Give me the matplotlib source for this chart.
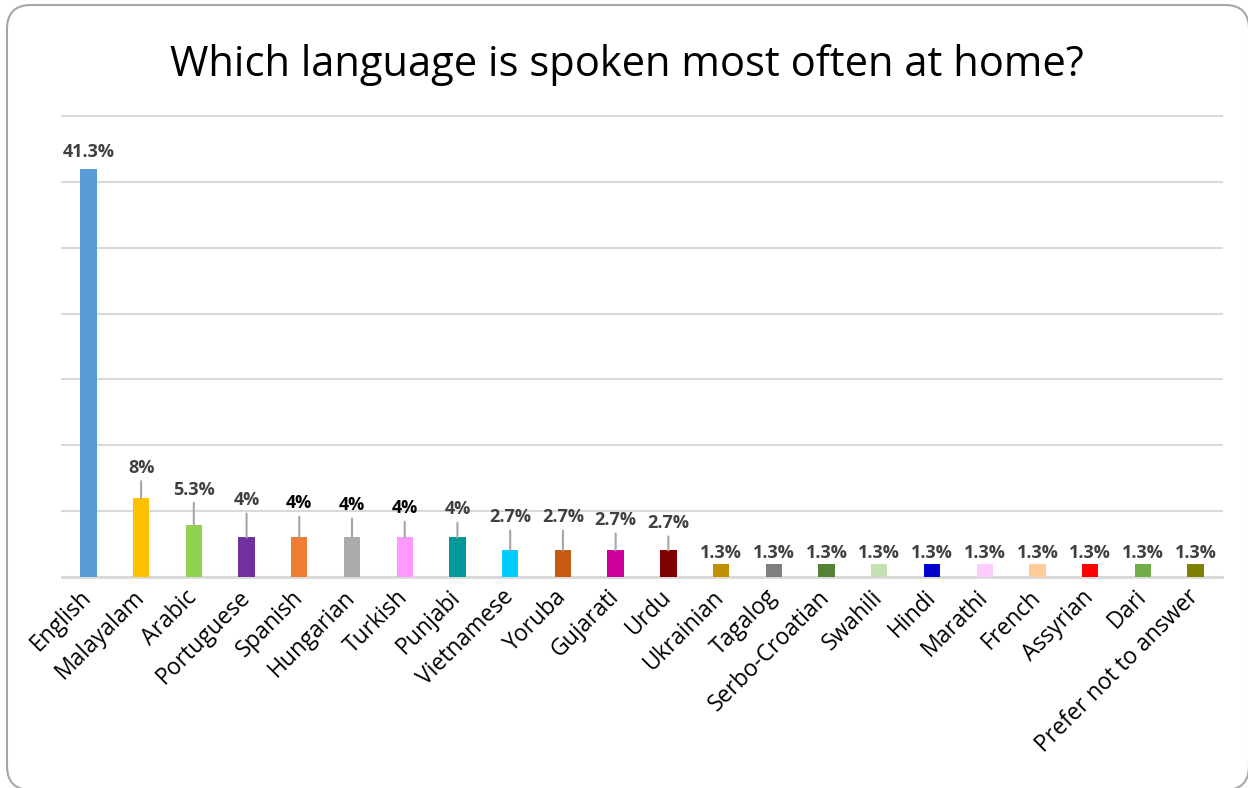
import matplotlib
matplotlib.use('Agg')
import matplotlib.pyplot as plt
import numpy as np
from matplotlib.patches import FancyBboxPatch
from matplotlib.transforms import IdentityTransform

plt.rcParams['font.family'] = ['Open Sans', 'DejaVu Sans']

# Dados do gráfico
languages = ['English', 'Malayalam', 'Arabic', 'Portuguese', 'Spanish', 'Hungarian',
             'Turkish', 'Punjabi', 'Vietnamese', 'Yoruba', 'Gujarati', 'Urdu',
             'Ukrainian', 'Tagalog', 'Serbo-Croatian', 'Swahili', 'Hindi', 'Marathi',
             'French', 'Assyrian', 'Dari', 'Prefer not to answer']
percent = [41.3, 8, 5.3, 4, 4, 4, 4, 4, 2.7, 2.7, 2.7, 2.7,
           1.3, 1.3, 1.3, 1.3, 1.3, 1.3, 1.3, 1.3, 1.3, 1.3]
value_labels = ['41.3%', '8%', '5.3%', '4%', '4%', '4%', '4%', '4%', '2.7%', '2.7%', '2.7%', '2.7%',
                '1.3%', '1.3%', '1.3%', '1.3%', '1.3%', '1.3%', '1.3%', '1.3%', '1.3%', '1.3%']
bar_colors = ['#5B9BD5', '#FFC000', '#92D050', '#7030A0', '#ED7D31', '#AEAAAA',
              '#FF99FF', '#009999', '#00CCFF', '#C55A11', '#CC0099', '#800000',
              '#BF9000', '#7F7F7F', '#548235', '#C5E0B4', '#0000CC', '#FFCCFF',
              '#FFCC99', '#FF0000', '#70AD47', '#808000']

# posição dos rótulos (px acima da barra) e se tem linha de chamada
label_gap_px = [17, 30, 35, 37, 34, 32, 29, 28, 33, 33, 30, 27,
                11, 11, 11, 11, 11, 11, 11, 11, 11, 11]
leader = [False, True, True, True, True, True, True, True, True, True, True, True,
          False, False, False, False, False, False, False, False, False, False]
label_colors = ['#404040'] * 4 + ['#000000'] * 3 + ['#404040'] * 15

W, H = 1248, 788
fig = plt.figure(figsize=(W / 100, H / 100), dpi=100)
ax = fig.add_axes([62 / W, 211 / H, 1160 / W, 461 / H])

x = np.arange(len(languages))
ax.bar(x, percent, width=0.31, color=bar_colors, zorder=3)

ax.set_xlim(-0.5, len(languages) - 0.5)
ax.set_ylim(0, 100 * 35 / 75)
ax.set_yticks(np.arange(8) * 100 / 15)
ax.yaxis.grid(True, color='#d9d9d9', lw=1.5)
for gl in ax.get_ygridlines():
    gl.set_clip_on(False)
ax.set_axisbelow(True)
ax.tick_params(axis='y', length=0, labelleft=False)
ax.tick_params(axis='x', length=0, pad=12)
for s in ['top', 'right', 'left']:
    ax.spines[s].set_visible(False)
ax.spines['bottom'].set_color('#d9d9d9')
ax.spines['bottom'].set_linewidth(2)

ax.set_xticks(x)
ax.set_xticklabels(languages, rotation=45, ha='right', va='center',
                   rotation_mode='anchor', fontsize=16.5, color='black')

# Rótulos de dados
for i in range(len(languages)):
    arrow = None
    if leader[i]:
        arrow = dict(arrowstyle='-', color='#a6a6a6', lw=1.5, shrinkA=1, shrinkB=0)
    ax.annotate(value_labels[i], xy=(x[i], percent[i]), xytext=(0, label_gap_px[i] * 0.72),
                textcoords='offset points', ha='center', va='center', fontsize=13,
                fontweight='bold', color=label_colors[i], arrowprops=arrow, zorder=4)

# Título
fig.text(627 / W, (H - 76) / H, 'Which language is spoken most often at home?',
         ha='center', va='baseline', fontsize=30, color='black')

# Borda arredondada
borda = FancyBboxPatch((7, -2), 1242, 785, boxstyle='round,pad=0,rounding_size=24',
                       transform=IdentityTransform(), fill=False, ec='#a6a6a6', lw=1.5)
fig.add_artist(borda)

fig.savefig('out.png', dpi=100)
